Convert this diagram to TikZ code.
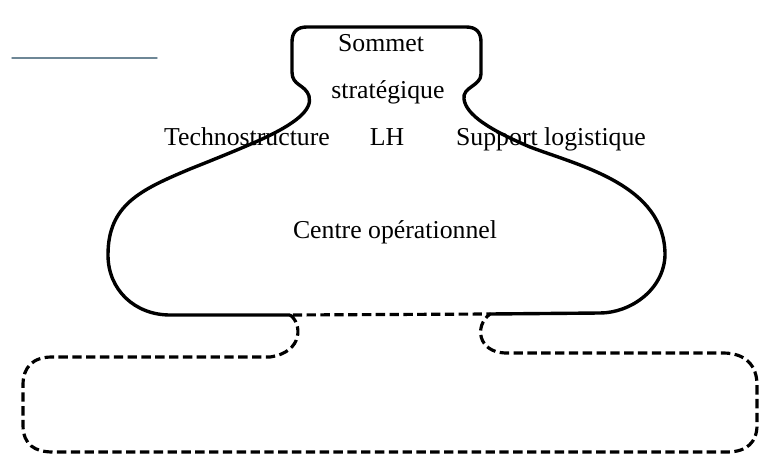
\documentclass[tikz,border=0pt]{standalone}
\usepackage{fontspec}
\setmainfont{Liberation Serif}
\usepackage{tikz}

\definecolor{scanline}{RGB}{110,135,150}

\begin{document}
\begin{tikzpicture}[x=0.03cm,y=-0.03cm,line join=round,line cap=round,
  label node/.style={anchor=base,inner sep=0pt,font=\fontsize{22}{26}\selectfont},
  solid outline/.style={line width=2.9pt},
  dashed outline/.style={line width=2.7pt,line cap=butt,dash pattern=on 8pt off 3.8pt}]
  \useasboundingbox (0,0) rectangle (765,455);

  \draw[scanline,line width=1.2pt] (12,58) -- (157,58);

  \draw[solid outline] (290,315) -- (170,315)
    .. controls (135,315) and (108,290) .. (108,255)
    .. controls (108,205) and (140,190) .. (190,169)
    .. controls (215,159) and (240,149) .. (260,140)
    .. controls (295,124) and (313,110) .. (309,96)
    .. controls (305,84) and (292,86) .. (292,72)
    -- (292,42) .. controls (292,32) and (297,27) .. (307,27)
    -- (466,27) .. controls (476,27) and (481,32) .. (481,42)
    -- (481,74) .. controls (481,86) and (462,87) .. (464,99)
    .. controls (466,115) and (490,130) .. (530,147)
    .. controls (580,166) and (665,185) .. (665,255)
    .. controls (664,290) and (630,313) .. (600,313)
    -- (490,314);

  \draw[dashed outline] (290,315)
    .. controls (302,323) and (304,352) .. (270,357)
    -- (52,357) .. controls (33,357) and (23,367) .. (23,385)
    -- (23,425) .. controls (23,445) and (35,452) .. (53,452)
    -- (727,452) .. controls (747,452) and (757,442) .. (757,425)
    -- (757,385) .. controls (757,365) and (745,353) .. (723,353)
    -- (505,353) .. controls (478,352) and (474,326) .. (490,314)
    -- cycle;

  \node[label node] (sommet) at (381,52) {Sommet};
  \node[label node] (strategique) at (388,99) {stratégique};
  \node[label node] (techno) at (247,146) {Technostructure};
  \node[label node] (lh) at (387,146) {LH};
  \node[label node] (support) at (551,146) {Support logistique};
  \node[label node] (centre) at (395,238) {Centre opérationnel};
\end{tikzpicture}
\end{document}
